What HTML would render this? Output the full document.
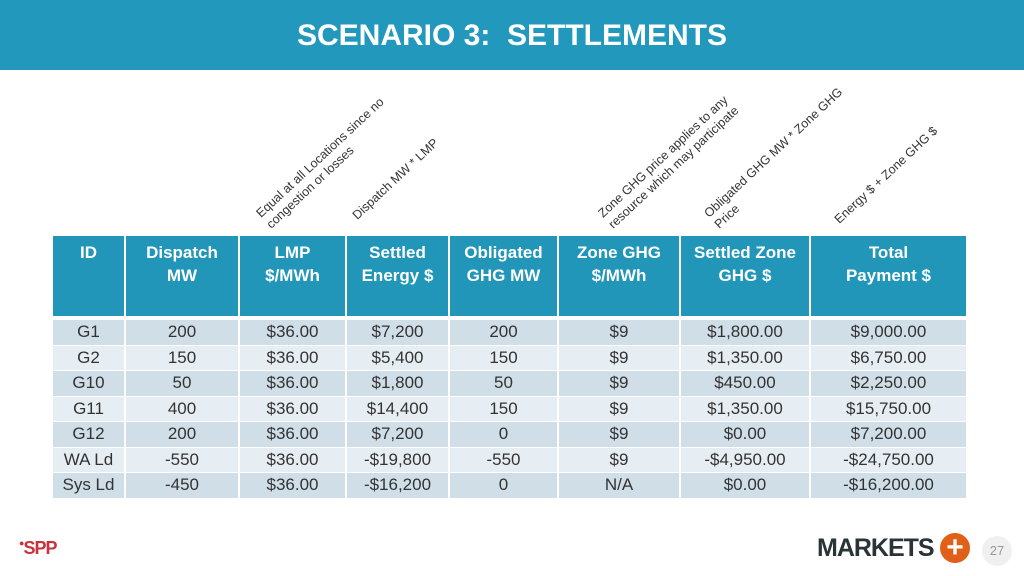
<!DOCTYPE html>
<html><head><meta charset="utf-8"><style>
body{margin:0;width:1024px;height:576px;position:relative;background:#fff;font-family:"Liberation Sans","DejaVu Sans",sans-serif;overflow:hidden}
.title{position:absolute;left:0;top:0;width:1024px;height:70px;background:#2398bd;color:#fff;font-weight:bold;font-size:30px;text-align:center;line-height:72px}
.ann{position:absolute;font-size:12.5px;color:#333;line-height:15px;transform-origin:0 100%;transform:rotate(-43deg);white-space:nowrap}
table{position:absolute;left:53px;top:236px;border-collapse:collapse;width:913px;table-layout:fixed;font-size:17px;color:#333}
th{background:#2196b9;color:#fff;font-weight:bold;height:75px;vertical-align:top;padding:5px 0 0 0;line-height:23px;border-left:2px solid #fff;border-bottom:4px solid #fff}
td{text-align:center;height:24.5px;padding:0;border-left:2px solid #fff;border-bottom:1px solid #fff;line-height:20px}
tr.a td{background:#cfdee7}tr.b td{background:#e7eef3}
th:first-child,td:first-child{border-left:none}
</style></head><body>
<div class="title">SCENARIO 3:&nbsp; SETTLEMENTS</div>
<div class="ann" style="left:274px;top:202px">Equal at all Locations since no<br>congestion or losses</div>
<div class="ann" style="left:360px;top:208px">Dispatch MW * LMP</div>
<div class="ann" style="left:616px;top:202px">Zone GHG price applies to any<br>resource which may participate</div>
<div class="ann" style="left:722px;top:202px">Obligated GHG MW * Zone GHG<br>Price</div>
<div class="ann" style="left:842px;top:212px">Energy $ + Zone GHG $</div>
<table>
<colgroup><col style="width:72px"><col style="width:114px"><col style="width:107px"><col style="width:103px"><col style="width:109px"><col style="width:122px"><col style="width:130px"><col style="width:156px"></colgroup>
<tr><th>ID</th><th>Dispatch<br>MW</th><th>LMP<br>$/MWh</th><th>Settled<br>Energy $</th><th>Obligated<br>GHG MW</th><th>Zone GHG<br>$/MWh</th><th>Settled Zone<br>GHG $</th><th>Total<br>Payment $</th></tr>
<tr class="a"><td>G1</td><td>200</td><td>$36.00</td><td>$7,200</td><td>200</td><td>$9</td><td>$1,800.00</td><td>$9,000.00</td></tr>
<tr class="b"><td>G2</td><td>150</td><td>$36.00</td><td>$5,400</td><td>150</td><td>$9</td><td>$1,350.00</td><td>$6,750.00</td></tr>
<tr class="a"><td>G10</td><td>50</td><td>$36.00</td><td>$1,800</td><td>50</td><td>$9</td><td>$450.00</td><td>$2,250.00</td></tr>
<tr class="b"><td>G11</td><td>400</td><td>$36.00</td><td>$14,400</td><td>150</td><td>$9</td><td>$1,350.00</td><td>$15,750.00</td></tr>
<tr class="a"><td>G12</td><td>200</td><td>$36.00</td><td>$7,200</td><td>0</td><td>$9</td><td>$0.00</td><td>$7,200.00</td></tr>
<tr class="b"><td>WA Ld</td><td>-550</td><td>$36.00</td><td>-$19,800</td><td>-550</td><td>$9</td><td>-$4,950.00</td><td>-$24,750.00</td></tr>
<tr class="a"><td>Sys Ld</td><td>-450</td><td>$36.00</td><td>-$16,200</td><td>0</td><td>N/A</td><td>$0.00</td><td>-$16,200.00</td></tr>
</table>
<div style="position:absolute;left:19px;top:538px;color:#c8323c;font-size:18px;font-weight:bold;letter-spacing:-1px"><span style="font-size:9px;vertical-align:top">●</span>SPP</div>
<div style="position:absolute;left:817px;top:534px;color:#2a3336;font-size:25px;font-weight:bold;letter-spacing:-1px">MARKETS</div>
<div style="position:absolute;left:940px;top:533px;width:30px;height:30px;border-radius:50%;background:#e0601a;color:#fff;font-size:30px;font-weight:bold;text-align:center;line-height:30px">+</div>
<div style="position:absolute;left:982px;top:536px;width:30px;height:30px;border-radius:50%;background:#f0f0f0;color:#999;font-size:13px;text-align:center;line-height:30px">27</div>
</body></html>
